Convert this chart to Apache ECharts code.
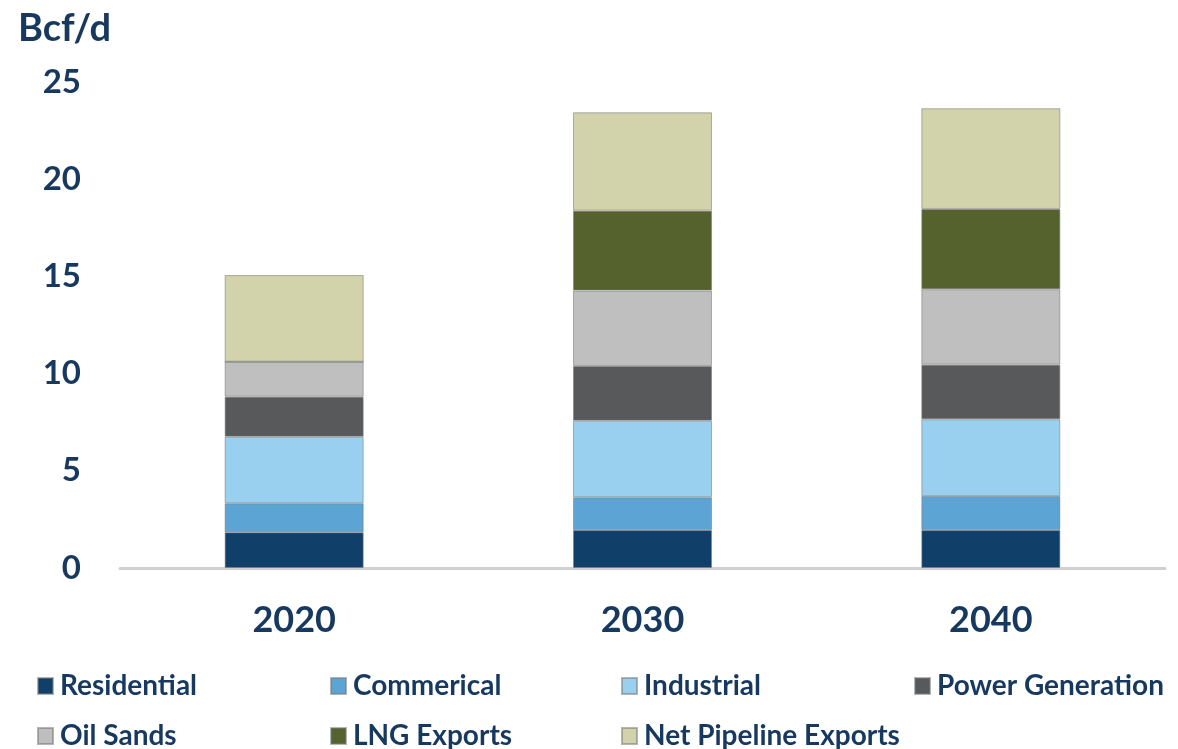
<!DOCTYPE html>
<html>
<head>
<meta charset="utf-8">
<script src="https://cdn.jsdelivr.net/npm/echarts@6/dist/echarts.min.js"></script>
<style>
  html, body { margin: 0; padding: 0; background: #ffffff; }
  #chart { width: 1178px; height: 749px; }
</style>
</head>
<body>
<div id="chart"></div>
<script>
// Natural gas demand by sector, Bcf/d
const years = ['2020', '2030', '2040'];
const residential = [1.84, 1.95, 1.95];
const commercial = [1.49, 1.69, 1.75];
const industrial = [3.42, 3.94, 3.95];
const powerGeneration = [2.06, 2.81, 2.81];
const oilSands = [1.80, 3.88, 3.88];
const lngExports = [0, 4.11, 4.13];
const netPipelineExports = [4.46, 5.06, 5.18];
const yTicks = [0, 5, 10, 15, 20, 25];

const seriesDefs = [
  { name: 'Residential', data: residential, color: '#10406a' },
  { name: 'Commerical', data: commercial, color: '#5ca4d4' },
  { name: 'Industrial', data: industrial, color: '#9ad0ef' },
  { name: 'Power Generation', data: powerGeneration, color: '#58595b' },
  { name: 'Oil Sands', data: oilSands, color: '#bfbfbf' },
  { name: 'LNG Exports', data: lngExports, color: '#55622d' },
  { name: 'Net Pipeline Exports', data: netPipelineExports, color: '#d2d2ab' }
];

const FONT = 'Lato';
const NAVY = '#17395f';

// legend slots laid out in a 4-column, 2-row grid
const legendPos = [
  [37, 672], [330, 672], [621, 672], [914, 672],
  [37, 722], [330, 722], [621, 722]
];

const chart = echarts.init(document.getElementById('chart'), null, { renderer: 'canvas' });

chart.setOption({
  animation: false,
  backgroundColor: '#ffffff',
  grid: { left: 120, right: 13, top: 82, bottom: 181, containLabel: false },
  xAxis: {
    type: 'category',
    data: years,
    axisLine: { show: true, lineStyle: { color: '#d0d0d0', width: 3 } },
    axisTick: { show: false },
    axisLabel: {
      margin: 34,
      color: NAVY,
      fontFamily: FONT,
      fontWeight: 'bold',
      fontSize: 36
    }
  },
  yAxis: {
    type: 'value',
    min: yTicks[0],
    max: yTicks[yTicks.length - 1],
    interval: 5,
    name: 'Bcf/d',
    nameLocation: 'end',
    nameGap: 0,
    nameTextStyle: {
      color: NAVY,
      fontFamily: FONT,
      fontWeight: 'bold',
      fontSize: 38,
      align: 'left',
      verticalAlign: 'bottom',
      padding: [0, 0, 34, -102]
    },
    splitLine: { show: false },
    axisLine: { show: false },
    axisTick: { show: false },
    axisLabel: {
      margin: 39,
      color: NAVY,
      fontFamily: FONT,
      fontWeight: 'bold',
      fontSize: 33
    }
  },
  legend: seriesDefs.map((s, i) => ({
    data: [s.name],
    left: legendPos[i][0],
    top: legendPos[i][1],
    icon: 'rect',
    itemWidth: 15,
    itemHeight: 16,
    itemGap: 0,
    padding: 0,
    textStyle: {
      color: NAVY,
      fontFamily: FONT,
      fontWeight: 'bold',
      fontSize: 28,
      padding: [0, 0, 0, 2]
    }
  })),
  series: seriesDefs.map(s => ({
    name: s.name,
    type: 'bar',
    stack: 'total',
    data: s.data,
    barWidth: 139,
    itemStyle: {
      color: s.color,
      borderColor: 'rgba(120,120,120,0.55)',
      borderWidth: 1
    }
  }))
});
</script>
</body>
</html>
